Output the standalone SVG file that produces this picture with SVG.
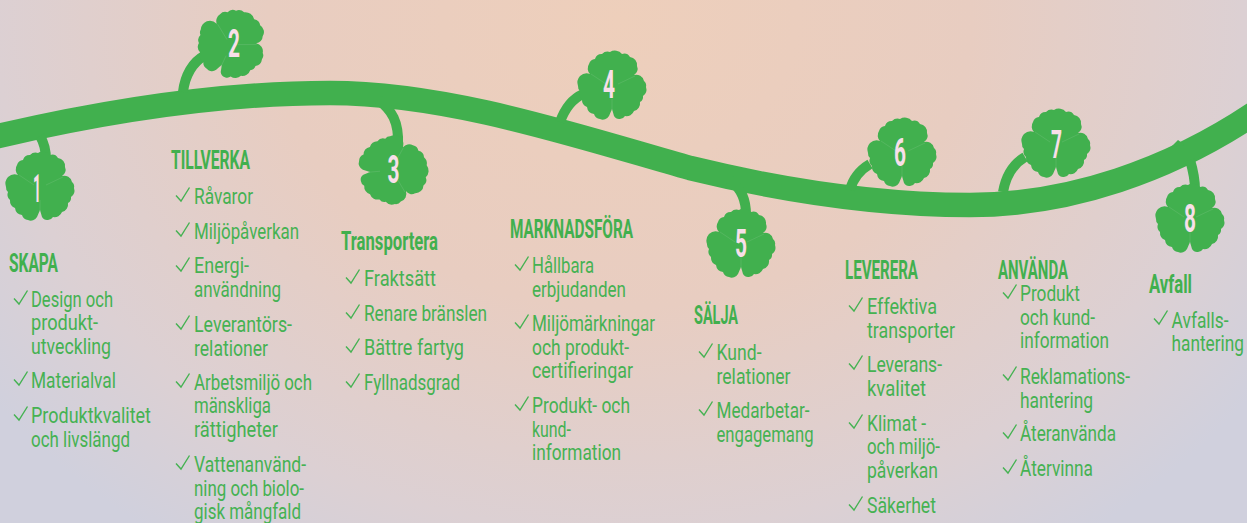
<svg xmlns="http://www.w3.org/2000/svg" width="1247" height="523" viewBox="0 0 1247 523">
<style>
.v{fill:none;stroke:#41b04e;stroke-linecap:butt}
.t{font-family:"Roboto","Liberation Sans",sans-serif;font-size:22px;fill:#45b252}
.h{font-family:"Roboto","Liberation Sans",sans-serif;font-size:25px;font-weight:700;fill:#41b04e}
.d{font-family:"Roboto","Liberation Sans",sans-serif;font-size:38px;font-weight:700;fill:#f8dfe9}
.c{fill:none;stroke:#45b252;stroke-width:1.400}
.n{fill:none;stroke:#6fc07a;stroke-width:.4}
</style>
<defs>
<radialGradient id="bg" gradientUnits="userSpaceOnUse" cx="0" cy="0" r="1" gradientTransform="translate(620 20) scale(780 640)">
<stop offset="0" stop-color="#eecfbb"/>
<stop offset=".45" stop-color="#e8cdc1"/>
<stop offset=".8" stop-color="#dcd0d3"/>
<stop offset="1" stop-color="#d0d0dd"/>
</radialGradient>
<path id="ck" class="c" d="M0,8.500L5,14L13.500,0.500"/>
<g id="leaf">
<path fill="#41b04e" d="M-22,-11 A8,8 0 0 1 -23,-21 A7,7 0 0 1 -17,-26 A7,7 0 0 1 -10,-31 A8,8 0 0 1 -2,-33 A9,9 0 0 1 10,-31 A7,7 0 0 1 18,-28 A8,8 0 0 1 25,-19 A7,7 0 0 1 22,-10 A8,8 0 0 1 32,-4 A6,6 0 0 1 34,2 A8,8 0 0 1 31,11 A6,6 0 0 1 28,17 A8,8 0 0 1 22,26 A8,8 0 0 1 13,31 A6,6 0 0 1 8,34 A6,6 0 0 1 2,31 L0,24 L-3,31 A7,7 0 0 1 -12,34 A7,7 0 0 1 -18,29 A8,8 0 0 1 -25,22 A8,8 0 0 1 -30,14 A7,7 0 0 1 -32,6 A6,6 0 0 1 -34,1 A10,10 0 0 1 -32,-9 A10,10 0 0 1 -22,-11 Z"/>
<path class="n" d="M0,14V26M6,-1L23,-9M-6,-1L-21,-11"/>
</g>
</defs>
<rect width="1247" height="523" fill="url(#bg)"/>
<g id="connectors">
<path class="v" stroke-width="24.500" d="M-10,138 C100,112 220,93 330,93 C450,93 580,137 690,168 C780,190 880,205 970,205 C1070,205 1170,170 1255,113"/>
<path fill="#41b04e" d="M1171,147L1178,140L1185,145Z"/>
<path class="v" stroke-width="10" d="M40,136 Q46,146 46,160"/>
<path class="v" stroke-width="10" d="M183,92 C185,75 193,62 204,56"/>
<path class="v" stroke-width="10" d="M378,100 C392,110 399,122 398,145"/>
<path class="v" stroke-width="10" d="M560,122 C565,108 572,99 583,94"/>
<path class="v" stroke-width="10" d="M730,180 C742,190 746,200 746,215"/>
<path class="v" stroke-width="10" d="M850,190 C853,178 860,170 870,164"/>
<path class="v" stroke-width="10" d="M1003,192 C1006,175 1013,164 1025,157"/>
<path class="v" stroke-width="10" d="M1190,160 C1193,170 1195,178 1195,190"/>
</g>
<g id="node-1">
<use href="#leaf" transform="translate(40 186)"/>
<text class="d" x="33" y="202" textLength="8" lengthAdjust="spacingAndGlyphs">1</text>
<text class="h" x="9" y="271.500" textLength="49" lengthAdjust="spacingAndGlyphs">SKAPA</text>
<use href="#ck" x="14" y="290"/><text class="t" x="31" y="306.500" textLength="82" lengthAdjust="spacingAndGlyphs">Design och</text>
<text class="t" x="31" y="330" textLength="67" lengthAdjust="spacingAndGlyphs">produkt-</text>
<text class="t" x="31" y="354" textLength="80" lengthAdjust="spacingAndGlyphs">utveckling</text>
<use href="#ck" x="14" y="371"/><text class="t" x="31" y="387.500" textLength="85" lengthAdjust="spacingAndGlyphs">Materialval</text>
<use href="#ck" x="14" y="406"/><text class="t" x="31" y="422.500" textLength="120" lengthAdjust="spacingAndGlyphs">Produktkvalitet</text>
<text class="t" x="31" y="446.500" textLength="99" lengthAdjust="spacingAndGlyphs">och livslängd</text>
</g>
<g id="node-2">
<use href="#leaf" transform="translate(232 43) rotate(25)"/>
<text class="d" x="228" y="57" textLength="12" lengthAdjust="spacingAndGlyphs">2</text>
<text class="h" x="171" y="169" textLength="79" lengthAdjust="spacingAndGlyphs">TILLVERKA</text>
<use href="#ck" x="176" y="187"/><text class="t" x="194" y="204" textLength="59" lengthAdjust="spacingAndGlyphs">Råvaror</text>
<use href="#ck" x="176" y="222"/><text class="t" x="194" y="238.500" textLength="105" lengthAdjust="spacingAndGlyphs">Miljöpåverkan</text>
<use href="#ck" x="176" y="257"/><text class="t" x="194" y="273" textLength="55" lengthAdjust="spacingAndGlyphs">Energi-</text>
<text class="t" x="194" y="296.500" textLength="87" lengthAdjust="spacingAndGlyphs">användning</text>
<use href="#ck" x="176" y="315"/><text class="t" x="194" y="331.500" textLength="98" lengthAdjust="spacingAndGlyphs">Leverantörs-</text>
<text class="t" x="194" y="355.500" textLength="74" lengthAdjust="spacingAndGlyphs">relationer</text>
<use href="#ck" x="176" y="373"/><text class="t" x="194" y="389.500" textLength="118" lengthAdjust="spacingAndGlyphs">Arbetsmiljö och</text>
<text class="t" x="194" y="413" textLength="77" lengthAdjust="spacingAndGlyphs">mänskliga</text>
<text class="t" x="194" y="436.500" textLength="84" lengthAdjust="spacingAndGlyphs">rättigheter</text>
<use href="#ck" x="176" y="455"/><text class="t" x="194" y="471.500" textLength="112" lengthAdjust="spacingAndGlyphs">Vattenanvänd-</text>
<text class="t" x="194" y="495.500" textLength="110" lengthAdjust="spacingAndGlyphs">ning och biolo-</text>
<text class="t" x="194" y="518.500" textLength="107" lengthAdjust="spacingAndGlyphs">gisk mångfald</text>
</g>
<g id="node-3">
<use href="#leaf" transform="translate(394 170) rotate(85)"/>
<text class="d" x="387.500" y="183" textLength="12" lengthAdjust="spacingAndGlyphs">3</text>
<text class="h" x="341" y="250" textLength="97" lengthAdjust="spacingAndGlyphs">Transportera</text>
<use href="#ck" x="346" y="269"/><text class="t" x="364" y="286" textLength="72" lengthAdjust="spacingAndGlyphs">Fraktsätt</text>
<use href="#ck" x="346" y="304"/><text class="t" x="364" y="320.500" textLength="123" lengthAdjust="spacingAndGlyphs">Renare bränslen</text>
<use href="#ck" x="346" y="338"/><text class="t" x="364" y="355" textLength="100" lengthAdjust="spacingAndGlyphs">Bättre fartyg</text>
<use href="#ck" x="346" y="373"/><text class="t" x="364" y="390" textLength="96" lengthAdjust="spacingAndGlyphs">Fyllnadsgrad</text>
</g>
<g id="node-4">
<use href="#leaf" transform="translate(612 85)"/>
<text class="d" x="603" y="98" textLength="12" lengthAdjust="spacingAndGlyphs">4</text>
<text class="h" x="510" y="237.500" textLength="123" lengthAdjust="spacingAndGlyphs">MARKNADSFÖRA</text>
<use href="#ck" x="515" y="256"/><text class="t" x="532" y="272.500" textLength="62" lengthAdjust="spacingAndGlyphs">Hållbara</text>
<text class="t" x="532" y="296.500" textLength="94" lengthAdjust="spacingAndGlyphs">erbjudanden</text>
<use href="#ck" x="515" y="314"/><text class="t" x="532" y="330.500" textLength="123" lengthAdjust="spacingAndGlyphs">Miljömärkningar</text>
<text class="t" x="532" y="355" textLength="97" lengthAdjust="spacingAndGlyphs">och produkt-</text>
<text class="t" x="532" y="377.500" textLength="101" lengthAdjust="spacingAndGlyphs">certifieringar</text>
<use href="#ck" x="515" y="396"/><text class="t" x="532" y="412.500" textLength="98" lengthAdjust="spacingAndGlyphs">Produkt- och</text>
<text class="t" x="532" y="436.500" textLength="39" lengthAdjust="spacingAndGlyphs">kund-</text>
<text class="t" x="532" y="460" textLength="89" lengthAdjust="spacingAndGlyphs">information</text>
</g>
<g id="node-5">
<use href="#leaf" transform="translate(741 243)"/>
<text class="d" x="735" y="257" textLength="12" lengthAdjust="spacingAndGlyphs">5</text>
<text class="h" x="694" y="324" textLength="44" lengthAdjust="spacingAndGlyphs">SÄLJA</text>
<use href="#ck" x="699" y="343"/><text class="t" x="716.500" y="360" textLength="45" lengthAdjust="spacingAndGlyphs">Kund-</text>
<text class="t" x="716.500" y="383.500" textLength="74" lengthAdjust="spacingAndGlyphs">relationer</text>
<use href="#ck" x="699" y="401"/><text class="t" x="716.500" y="417.500" textLength="93" lengthAdjust="spacingAndGlyphs">Medarbetar-</text>
<text class="t" x="716.500" y="441.500" textLength="97" lengthAdjust="spacingAndGlyphs">engagemang</text>
</g>
<g id="node-6">
<use href="#leaf" transform="translate(902 152)"/>
<text class="d" x="894" y="166" textLength="12" lengthAdjust="spacingAndGlyphs">6</text>
<text class="h" x="845" y="278.500" textLength="73" lengthAdjust="spacingAndGlyphs">LEVERERA</text>
<use href="#ck" x="849" y="297"/><text class="t" x="867" y="314" textLength="70" lengthAdjust="spacingAndGlyphs">Effektiva</text>
<text class="t" x="867" y="337.500" textLength="88" lengthAdjust="spacingAndGlyphs">transporter</text>
<use href="#ck" x="849" y="355"/><text class="t" x="867" y="371.500" textLength="75" lengthAdjust="spacingAndGlyphs">Leverans-</text>
<text class="t" x="867" y="395.500" textLength="59" lengthAdjust="spacingAndGlyphs">kvalitet</text>
<use href="#ck" x="849" y="414"/><text class="t" x="867" y="430.500" textLength="59" lengthAdjust="spacingAndGlyphs">Klimat -</text>
<text class="t" x="867" y="454" textLength="73" lengthAdjust="spacingAndGlyphs">och miljö-</text>
<text class="t" x="867" y="477.500" textLength="71" lengthAdjust="spacingAndGlyphs">påverkan</text>
<use href="#ck" x="849" y="496"/><text class="t" x="867" y="513" textLength="69" lengthAdjust="spacingAndGlyphs">Säkerhet</text>
</g>
<g id="node-7">
<use href="#leaf" transform="translate(1056 143)"/>
<text class="d" x="1051" y="158" textLength="11" lengthAdjust="spacingAndGlyphs">7</text>
<text class="h" x="998" y="278.500" textLength="70" lengthAdjust="spacingAndGlyphs">ANVÄNDA</text>
<use href="#ck" x="1003" y="284"/><text class="t" x="1020" y="300.500" textLength="60" lengthAdjust="spacingAndGlyphs">Produkt</text>
<text class="t" x="1020" y="325" textLength="75" lengthAdjust="spacingAndGlyphs">och kund-</text>
<text class="t" x="1020" y="347.500" textLength="89" lengthAdjust="spacingAndGlyphs">information</text>
<use href="#ck" x="1003" y="366"/><text class="t" x="1020" y="383.500" textLength="110" lengthAdjust="spacingAndGlyphs">Reklamations-</text>
<text class="t" x="1020" y="407.500" textLength="73" lengthAdjust="spacingAndGlyphs">hantering</text>
<use href="#ck" x="1003" y="424"/><text class="t" x="1020" y="440.500" textLength="96" lengthAdjust="spacingAndGlyphs">Återanvända</text>
<use href="#ck" x="1003" y="459"/><text class="t" x="1020" y="475.500" textLength="73" lengthAdjust="spacingAndGlyphs">Återvinna</text>
</g>
<g id="node-8">
<use href="#leaf" transform="translate(1190 218)"/>
<text class="d" x="1184" y="232" textLength="12" lengthAdjust="spacingAndGlyphs">8</text>
<text class="h" x="1149" y="292.500" textLength="43" lengthAdjust="spacingAndGlyphs">Avfall</text>
<use href="#ck" x="1154" y="310"/><text class="t" x="1171.500" y="327.500" textLength="57" lengthAdjust="spacingAndGlyphs">Avfalls-</text>
<text class="t" x="1171.500" y="350.500" textLength="72.500" lengthAdjust="spacingAndGlyphs">hantering</text>
</g>
</svg>
